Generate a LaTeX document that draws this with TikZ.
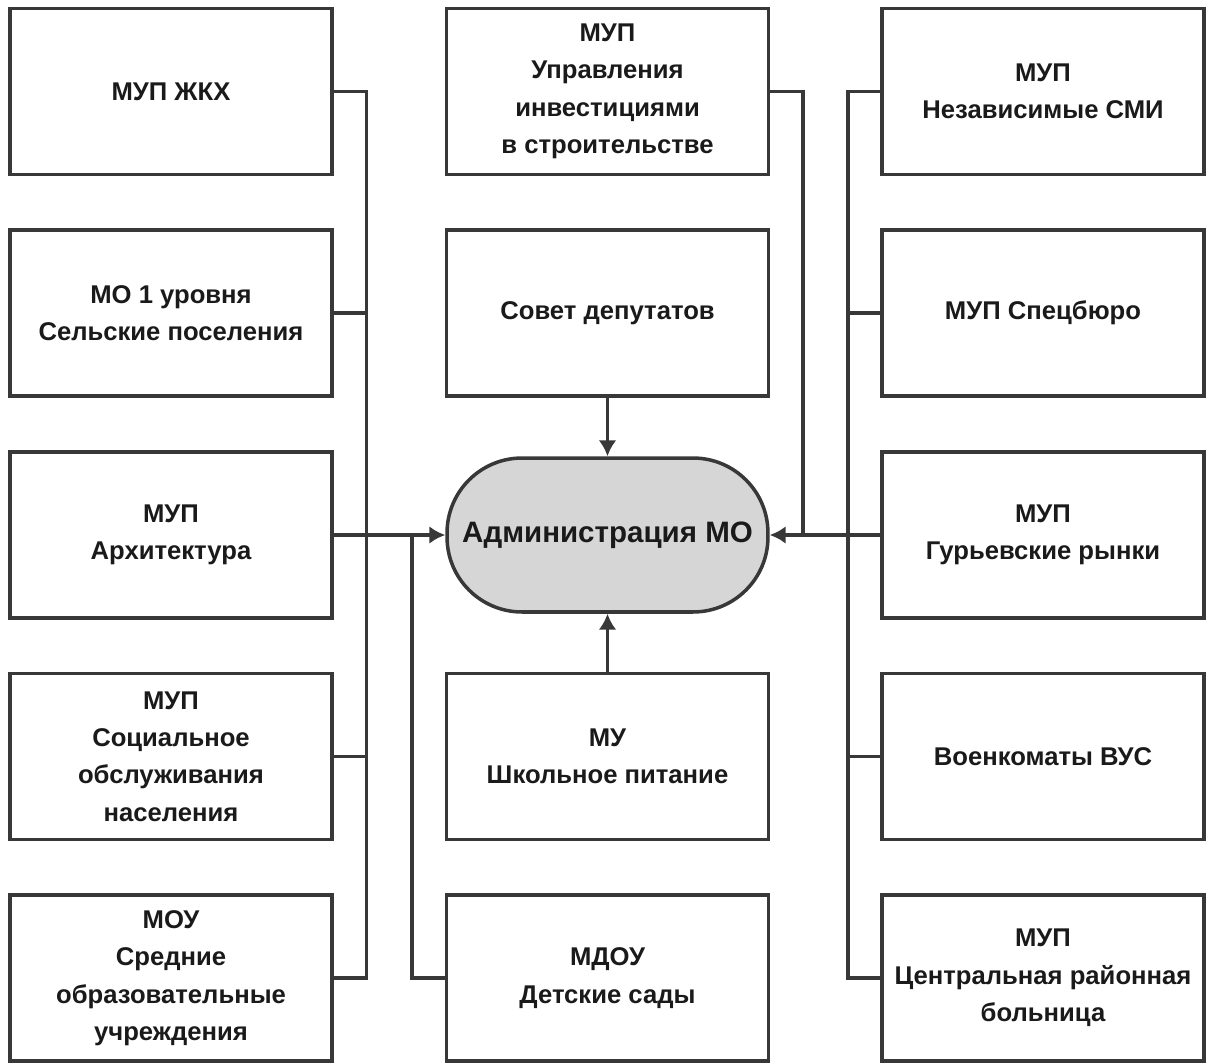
\documentclass[tikz,border=0pt]{standalone}
\usepackage{fontspec}
\setmainfont{Liberation Sans}
\usetikzlibrary{arrows.meta}
\definecolor{linec}{HTML}{383838}
\definecolor{textc}{HTML}{1A1A1A}
\definecolor{adminfill}{HTML}{D6D6D6}
\begin{document}
\begin{tikzpicture}[x=0.02cm,y=-0.02cm,
  unitbox/.style={draw=linec, line width=2pt, fill=white,
    minimum width=6.44cm, minimum height=3.32cm, inner sep=2pt,
    align=center, text=textc,
    font=\bfseries\fontsize{14.6}{21.3}\selectfont},
  adminbox/.style={draw=linec, line width=2pt, fill=adminfill,
    minimum width=6.42cm, minimum height=3.08cm, rounded corners=1.5cm,
    align=center, text=textc,
    font=\bfseries\fontsize{16.8}{21}\selectfont},
  conn/.style={draw=linec, line width=2pt},
  arr/.style={conn, -{Latex[length=9pt,width=10pt]}}]
\useasboundingbox (0,0) rectangle (1207,1062);

% left column
\node[unitbox] (L1) at (171,91.5) {МУП ЖКХ};
\node[unitbox] (L2) at (171,313) {МО 1 уровня\\Сельские поселения};
\node[unitbox] (L3) at (171,535) {МУП\\Архитектура};
\node[unitbox] (L4) at (171,756.5) {МУП\\Социальное\\обслуживания\\населения};
\node[unitbox] (L5) at (171,978) {МОУ\\Средние\\образовательные\\учреждения};

% middle column
\node[unitbox] (M1) at (607.5,91.5) {МУП\\Управления\\инвестициями\\в строительстве};
\node[unitbox] (M2) at (607.5,313) {Совет депутатов};
\node[adminbox] (A) at (607.5,535) {Администрация МО};
\node[unitbox] (M4) at (607.5,756.5) {МУ\\Школьное питание};
\node[unitbox] (M5) at (607.5,978) {МДОУ\\Детские сады};

% right column
\node[unitbox] (R1) at (1043,91.5) {МУП\\Независимые СМИ};
\node[unitbox] (R2) at (1043,313) {МУП Спецбюро};
\node[unitbox] (R3) at (1043,535) {МУП\\Гурьевские рынки};
\node[unitbox] (R4) at (1043,756.5) {Военкоматы ВУС};
\node[unitbox] (R5) at (1043,978) {МУП\\Центральная районная\\больница};

% bus lines
\coordinate (lb) at (366.5,0);
\coordinate (lb2) at (412,0);
\coordinate (mb) at (803,0);
\coordinate (rb) at (848,0);

% left bus
\draw[conn] (L1.east) -| (lb |- L5.east) -- (L5.east);
\draw[conn] (L2.east) -- (L2.east -| lb);
\draw[conn] (L4.east) -- (L4.east -| lb);
\draw[arr] (L3.east) -- (A.west);
\draw[conn] (M5.west) -| (lb2 |- A.west);

% right bus
\draw[conn] (R1.west) -| (rb |- R5.west) -- (R5.west);
\draw[conn] (R2.west) -- (R2.west -| rb);
\draw[conn] (R4.west) -- (R4.west -| rb);
\draw[arr] (R3.west) -- (A.east);
\draw[conn] (M1.east) -| (mb |- A.east);

% vertical links
\draw[arr] (M2.south) -- (A.north);
\draw[arr] (M4.north) -- (A.south);
\end{tikzpicture}
\end{document}
